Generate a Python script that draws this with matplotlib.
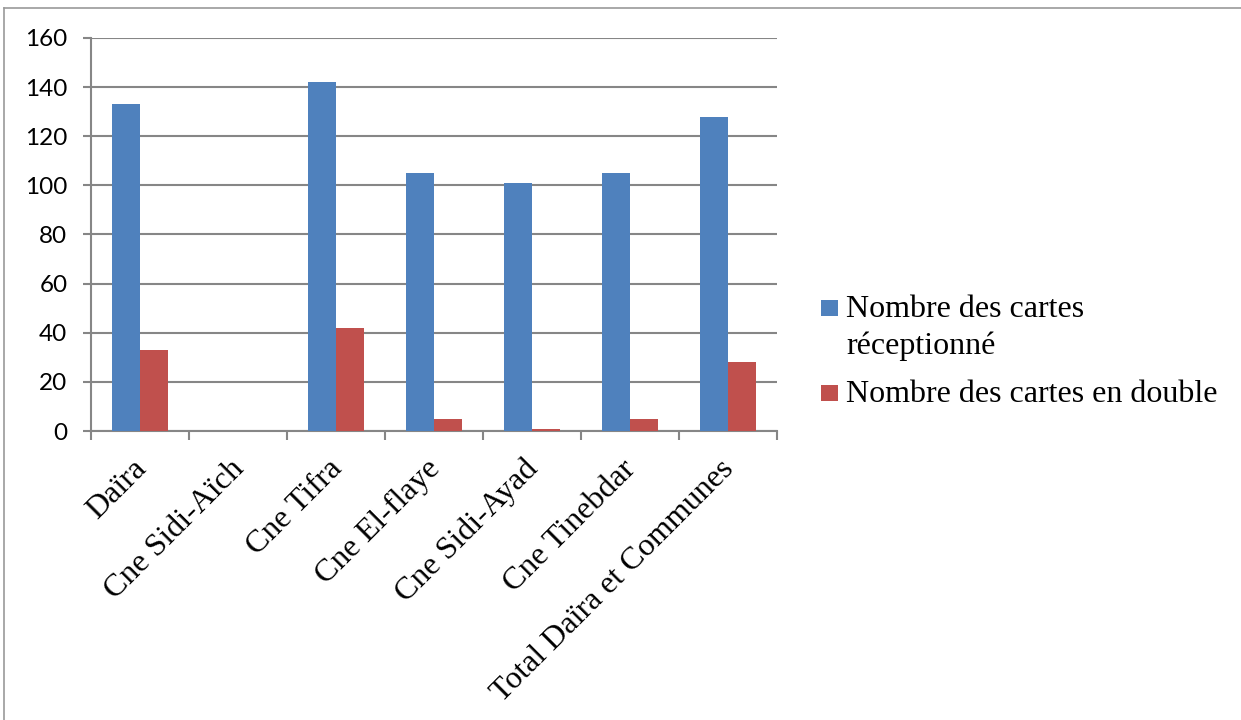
import textwrap
import numpy as np
import matplotlib
matplotlib.use("Agg")
import matplotlib.pyplot as plt
from matplotlib.patches import Rectangle
from matplotlib.lines import Line2D
from matplotlib.transforms import ScaledTranslation, blended_transform_factory

# Data
categories = ["Daïra", "Cne Sidi-Aïch", "Cne Tifra", "Cne El-flaye",
              "Cne Sidi-Ayad", "Cne Tinebdar", "Total Daïra et Communes"]
series_names = ["Nombre des cartes réceptionné", "Nombre des cartes en double"]
recues = [133, 0, 142, 105, 101, 105, 128]
doubles = [33, 0, 42, 5, 1, 5, 28]
y_ticks = [0, 20, 40, 60, 80, 100, 120, 140, 160]

colors = ["#4F81BD", "#C0504D"]
grid_col = "#868686"
W, H, DPI = 1241, 720, 100

fig = plt.figure(figsize=(W / DPI, H / DPI), dpi=DPI)
fig.patch.set_facecolor("white")

# plot area in pixels: x 91..777, y 38..431
left, right, top, bottom = 91, 777, 38, 431
ax = fig.add_axes([left / W, 1 - bottom / H, (right - left) / W, (bottom - top) / H])

x = np.arange(len(categories))
bw = 2 / 7  # 150% gap width
ax.bar(x - bw / 2, recues, width=bw, color=colors[0], linewidth=0, zorder=3)
ax.bar(x + bw / 2, doubles, width=bw, color=colors[1], linewidth=0, zorder=3)

ax.set_xlim(-0.5, len(categories) - 0.5)
ax.set_ylim(y_ticks[0], y_ticks[-1])
ax.set_yticks(y_ticks)
ax.set_yticklabels([str(v) for v in y_ticks], fontfamily="Lato", fontsize=17.5)
ax.yaxis.grid(True, color=grid_col, linewidth=1.5, zorder=0)
ax.set_axisbelow(True)

# tick marks on category boundaries
ax.set_xticks(np.arange(len(categories) + 1) - 0.5)
ax.set_xticklabels([])
ax.tick_params(axis="x", length=6.5, width=1.5, color=grid_col, direction="out")
ax.tick_params(axis="y", length=6, width=1.5, color=grid_col, direction="out", pad=11)

for s in ["top", "right"]:
    ax.spines[s].set_visible(False)
for s in ["left", "bottom"]:
    ax.spines[s].set_color(grid_col)
    ax.spines[s].set_linewidth(1.5)

# rotated category labels, anchored at their baseline end
base = blended_transform_factory(ax.transData, ax.transAxes)
off = ScaledTranslation(7 / DPI, -39 / DPI, fig.dpi_scale_trans)
for xi, lab in zip(x, categories):
    ax.text(xi, 0, lab, transform=base + off, rotation=45, rotation_mode="anchor",
            ha="right", va="baseline", fontfamily="Liberation Serif", fontsize=23)

# legend
def fx(px):
    return px / W

def fy(py):
    return 1 - py / H

entries = [(300, 317), (385, 402)]
for (sq_top, baseline), name, col in zip(entries, series_names, colors):
    fig.add_artist(Rectangle((fx(821), fy(sq_top + 16)), 17 / W, 16 / H,
                             transform=fig.transFigure, facecolor=col, edgecolor="none"))
    for k, line in enumerate(textwrap.wrap(name, 28)):
        fig.text(fx(846), fy(baseline + 37 * k), line, ha="left", va="baseline",
                 fontfamily="Liberation Serif", fontsize=23)

# outer frame (top and left edges)
fig.add_artist(Line2D([fx(4), 1.0], [fy(8), fy(8)], transform=fig.transFigure,
                      color="#9a9a9a", linewidth=1.2))
fig.add_artist(Line2D([fx(4), fx(4)], [fy(8), 0.0], transform=fig.transFigure,
                      color="#9a9a9a", linewidth=1.2))

fig.savefig("out.png", dpi=DPI)
